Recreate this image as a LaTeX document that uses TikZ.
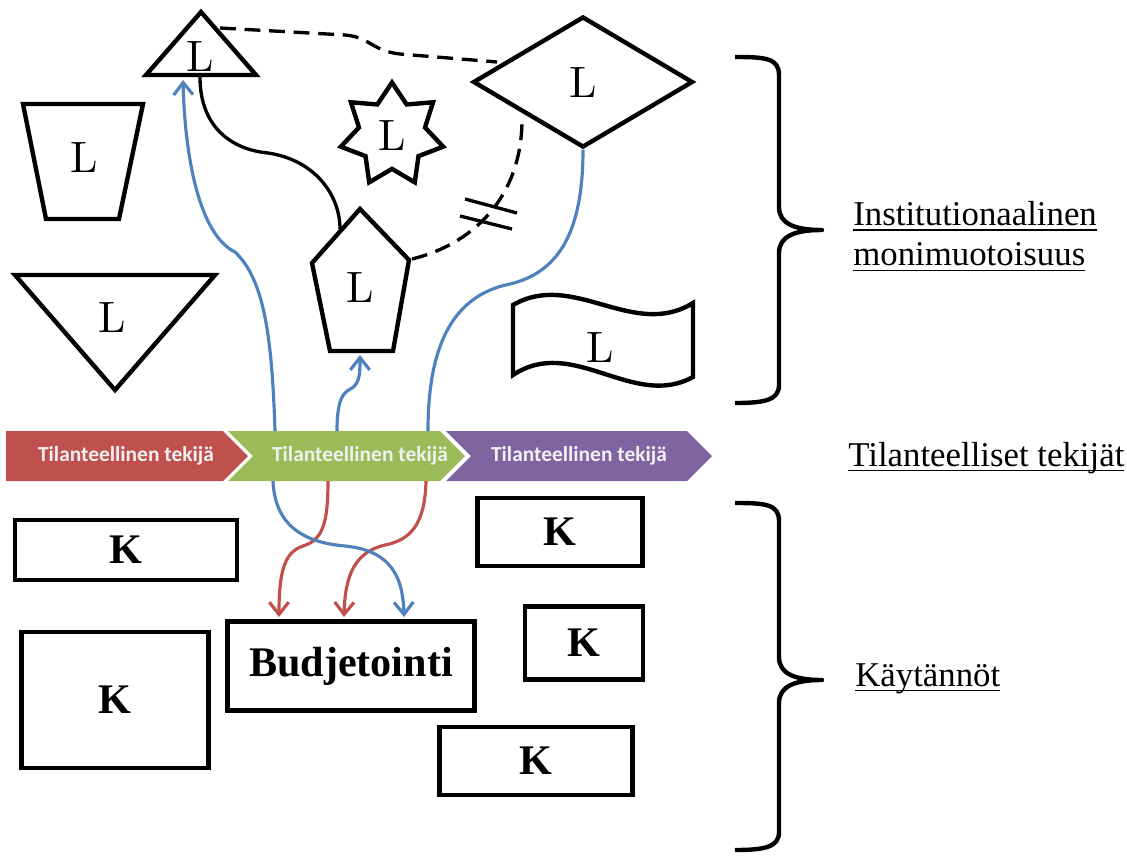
\documentclass[tikz,border=0pt]{standalone}
\usepackage{fontspec}
\usetikzlibrary{arrows.meta,shapes.geometric}
\newfontfamily\chevronfont{Carlito}
\newfontfamily\serifont{Liberation Serif}
\newfontfamily\letterfont{lmroman10-regular.otf}
\newsavebox\underbox
\newcommand{\undertext}[1]{\sbox\underbox{#1}%
  \rlap{\vrule width\wd\underbox height -2.2pt depth 3pt}\usebox\underbox}
\definecolor{flowblue}{RGB}{79,129,189}
\definecolor{flowred}{RGB}{192,80,77}
\definecolor{chevred}{RGB}{192,80,77}
\definecolor{chevgreen}{RGB}{155,187,89}
\definecolor{chevpurple}{RGB}{128,100,162}

\begin{document}
\begin{tikzpicture}[
  x=0.02cm, y=-0.02cm,
  every node/.style={inner sep=0pt},
  outline/.style={line width=2.5pt, line join=miter},
  letter/.style={font=\letterfont\fontsize{25}{30}\selectfont},
  kbox/.style={draw, line width=2.5pt,
    font=\serifont\bfseries\fontsize{24}{28}\selectfont},
  chevtext/.style={text=white!94!black,
    font=\chevronfont\bfseries\fontsize{12.2}{15}\selectfont},
  sidetext/.style={font=\serifont\fontsize{19.8}{23}\selectfont},
  link/.style={line width=1.9pt},
  dashlink/.style={link, dash pattern=on 9pt off 5pt},
  blueflow/.style={draw=flowblue, line width=1.8pt},
  redflow/.style={draw=flowred, line width=1.8pt},
  flowtip/.style={-{Straight Barb[length=7pt,width=11pt]}}]
\useasboundingbox (0,0) rectangle (1127,859);

\draw[outline] (146,75) -- (201,12) -- (256,75) -- cycle;
\node[letter] (ltri) at (200,56) {L};
\draw[outline] (23,104) -- (143,104) -- (119,219) -- (46,219) -- cycle;
\node[letter] (ltrap) at (84,157) {L};
\draw[outline] (15,275) -- (215,275) -- (115,390) -- cycle;
\node[letter] (linv) at (112,317) {L};
\node[star, star points=7, star point ratio=1.55, draw, outline,
  minimum size=2.1cm, letter] (lstar) at (392,135) {L};
\draw[outline] (360,209) -- (409,260) -- (393,351) -- (330,351)
  -- (312,263) -- cycle;
\node[letter] (lpent) at (360,287) {L};
\node[diamond, draw, outline, minimum width=4.4cm, minimum height=2.62cm,
  letter] (dia) at (583,82) {L};
\draw[outline] (513,305) .. controls (573,270) and (633,340) .. (693,303)
  -- (693,377) .. controls (633,410) and (573,335) .. (513,375) -- cycle;
\node[letter] (ltape) at (600,347) {L};

\coordinate (triR) at (220,28);
\coordinate (triB) at (200,77);
\coordinate (triA) at (183,80);
\coordinate (diaL) at (497,62);
\coordinate (diaS) at (522,119);
\coordinate (pentL) at (340,229);
\coordinate (pentR) at (412,259);
\coordinate (pentB) at (360,355);

\fill[chevred] (6,431) -- (223,431) -- (248,456) -- (223,481) -- (6,481)
  -- cycle;
\fill[chevgreen] (228,431) -- (440,431) -- (465,456) -- (440,481)
  -- (228,481) -- (253,456) -- cycle;
\fill[chevpurple] (446,431) -- (687,431) -- (712,456) -- (687,481)
  -- (446,481) -- (471,456) -- cycle;
\node[chevtext] (chred) at (126,456) {Tilanteellinen tekijä};
\node[chevtext] (chgreen) at (360,456) {Tilanteellinen tekijä};
\node[chevtext] (chpurple) at (579,456) {Tilanteellinen tekijä};
\coordinate (gTopA) at (275,431);
\coordinate (gTopB) at (337,431);
\coordinate (gTopC) at (428,431);
\coordinate (gBotA) at (273,481);
\coordinate (gBotB) at (328,481);
\coordinate (gBotC) at (426,481);

\node[kbox, minimum width=4.44cm, minimum height=1.2cm] (kone) at (126,550) {K};
\node[kbox, minimum width=3.3cm, minimum height=1.36cm] (ktwo) at (560,532) {K};
\node[kbox, minimum width=2.36cm, minimum height=1.46cm] (kthree) at (584,643) {K};
\node[kbox, minimum width=3.74cm, minimum height=2.72cm] (kfour) at (115,700) {K};
\node[kbox, minimum width=3.86cm, minimum height=1.36cm] (kfive) at (536,761) {K};
\node[kbox, minimum width=4.94cm, minimum height=1.78cm] (budj) at (351,666)
  {Budjetointi};
\coordinate (budjA) at (279,617);
\coordinate (budjB) at (344,617);
\coordinate (budjC) at (404,617);

\draw[dashlink] (triR) -- (345,35) .. controls (370,37) and (372,51) .. (400,54)
  -- (diaL);
\draw[link] (triB) .. controls (200,130) and (235,150) .. (268,153)
  .. controls (315,160) and (340,195) .. (pentL);
\draw[dashlink] (pentR) .. controls (470,245) and (522,200) .. (diaS);
\draw[link] (465,199) -- (517,213);
\draw[link] (460,216) -- (512,229);

\draw[blueflow, flowtip] (gTopA) .. controls (272,340) and (265,280) .. (235,252)
  .. controls (200,235) and (185,160) .. (triA);
\draw[blueflow, flowtip] (gTopB) .. controls (337,395) and (345,392) .. (352,388)
  .. controls (360,383) and (360,372) .. (pentB);
\draw[blueflow] (dia.south) .. controls (583,230) and (560,272) .. (510,284)
  .. controls (450,296) and (428,350) .. (gTopC);
\draw[redflow, flowtip] (gBotB) .. controls (328,525) and (322,540) .. (303,546)
  .. controls (285,552) and (279,570) .. (budjA);
\draw[redflow, flowtip] (gBotC) .. controls (425,525) and (410,540) .. (385,545)
  .. controls (355,552) and (345,575) .. (budjB);
\draw[blueflow, flowtip] (gBotA) .. controls (275,530) and (310,543) .. (345,546)
  .. controls (385,550) and (403,570) .. (budjC);

\draw[outline, line join=round] (735,57) .. controls (765,57) and (779,58)
  .. (779,75) -- (779,207) .. controls (779,224) and (795,230) .. (822,230)
  .. controls (795,230) and (779,236) .. (779,253) -- (779,385)
  .. controls (779,400) and (765,403) .. (735,403);
\draw[outline, line join=round] (735,503) .. controls (765,503) and (779,504)
  .. (779,521) -- (779,657) .. controls (779,674) and (795,680) .. (822,680)
  .. controls (795,680) and (779,686) .. (779,703) -- (779,832)
  .. controls (779,847) and (765,850) .. (735,850);

\node[sidetext, align=left, anchor=west] (inst) at (853,236)
  {\undertext{Institutionaalinen}\\\undertext{monimuotoisuus}};
\node[sidetext, anchor=base west] (tilan) at (848,466)
  {\undertext{Tilanteelliset tekijät}};
\node[sidetext, anchor=base west] (kayt) at (855,686) {\undertext{Käytännöt}};
\end{tikzpicture}
\end{document}
